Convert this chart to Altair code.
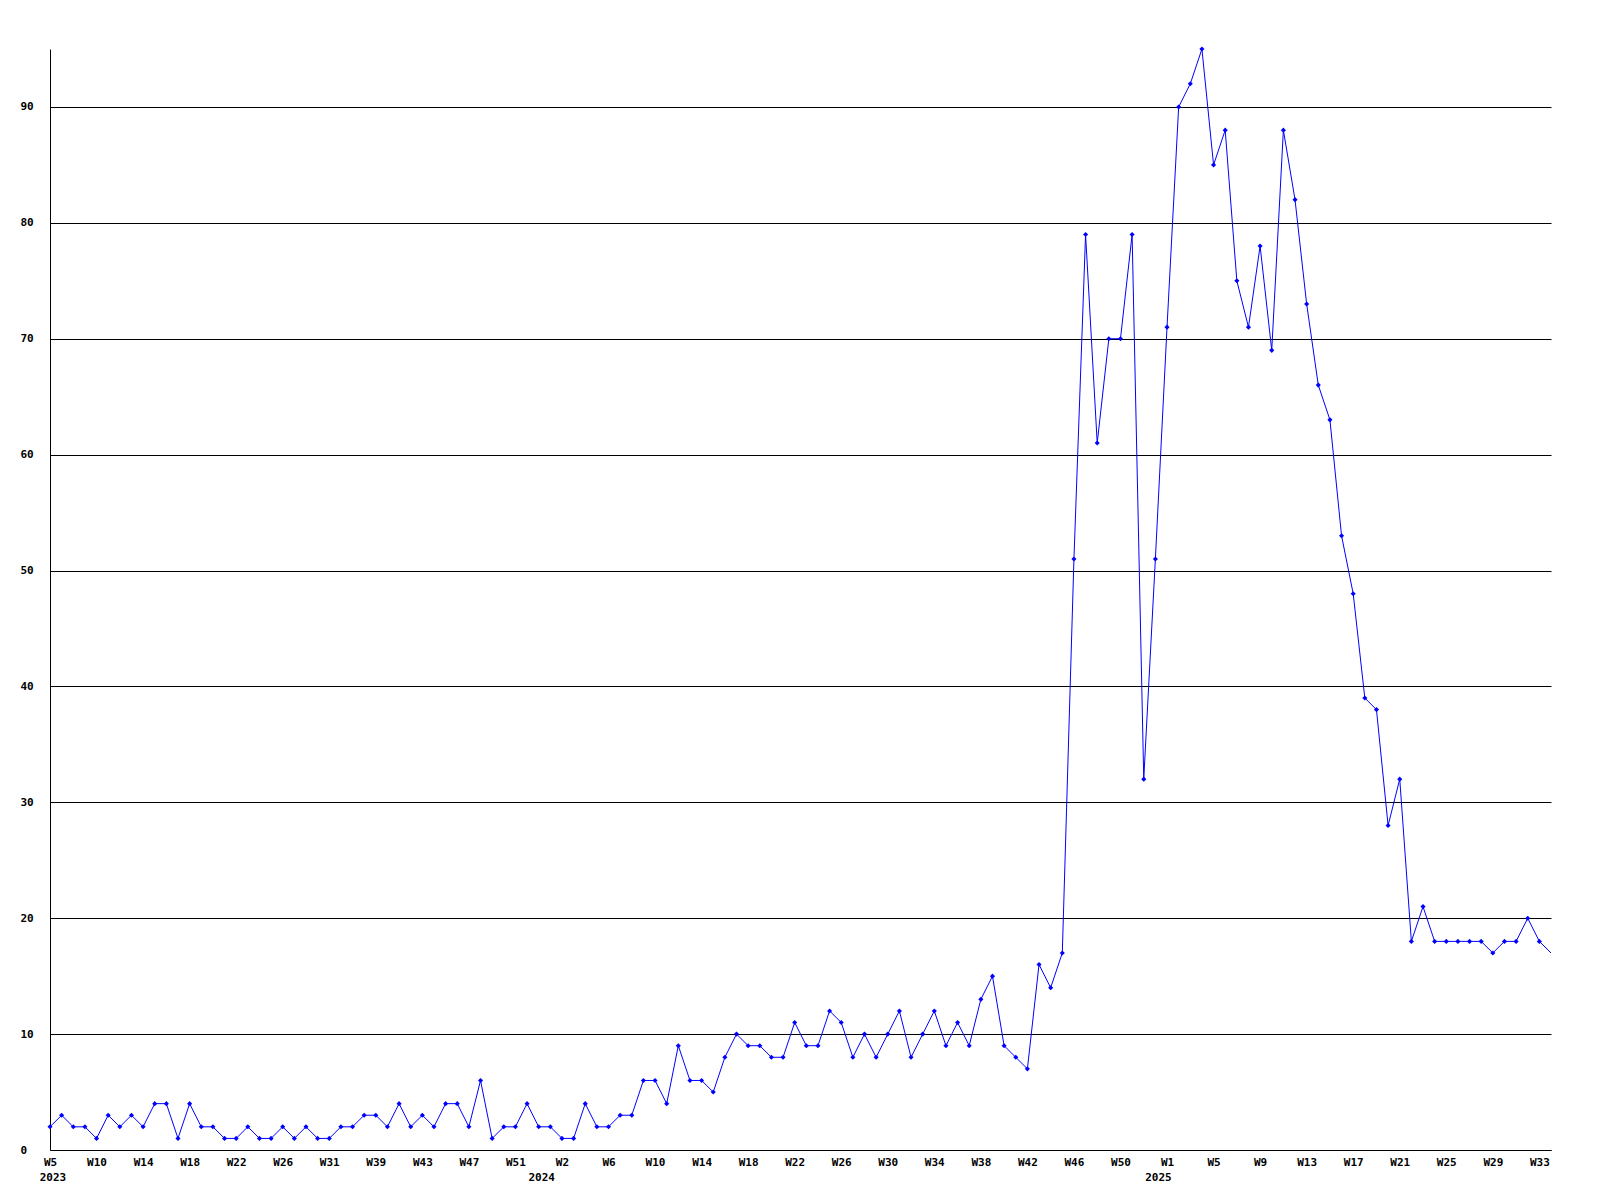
import altair as alt
import pandas as pd

# weekly counts, one value per plotted week (2023 W5 ... 2025 W34)
values = [
    2, 3, 2, 2, 1, 3, 2, 3, 2, 4, 4, 1, 4, 2, 2, 1, 1, 2, 1, 1, 2, 1, 2, 1, 1,
    2, 2, 3, 3, 2, 4, 2, 3, 2, 4, 4, 2, 6, 1, 2, 2, 4, 2, 2,
    1, 1, 4, 2, 2, 3, 3, 6, 6, 4, 9, 6, 6, 5, 8,
    10, 9, 9, 8, 8, 11, 9, 9, 12, 11, 8, 10, 8, 10, 12, 8, 10, 12, 9, 11, 9,
    13, 15, 9, 8, 7, 16, 14, 17,
    51, 79, 61, 70, 70, 79, 32, 51, 71, 90, 92, 95, 85, 88, 75, 71, 78, 69,
    88, 82, 73, 66, 63, 53, 48, 39, 38, 28, 32, 18, 21, 18, 18, 18, 18, 18,
    17, 18, 18, 20, 18, 17,
]

# x tick labels, one every 4th week
tick_labels = [
    "W5", "W10", "W14", "W18", "W22", "W26", "W31", "W39", "W43", "W47", "W51",
    "W2", "W6", "W10", "W14", "W18", "W22", "W26", "W30", "W34", "W38", "W42",
    "W46", "W50",
    "W1", "W5", "W9", "W13", "W17", "W21", "W25", "W29", "W33",
]
tick_step = 4

year_labels = ["2023", "2024", "2025"]
year_index = [0, 42, 95]

y_ticks = [0, 10, 20, 30, 40, 50, 60, 70, 80, 90]

FONT = "DejaVu Sans Mono"
W, H = 1501, 1101

n = len(values)
df = pd.DataFrame({"i": list(range(n)), "v": values})
years = pd.DataFrame({"i": year_index, "year": year_labels})

tick_idx = [k * tick_step for k in range(len(tick_labels))]
# labels are laid out as fixed 3-character cells (short ones padded)
padded = [t + "\u00a0" * (3 - len(t)) for t in tick_labels]
label_expr = "[" + ",".join(f"'{t}'" for t in padded) + f"][round(datum.value / {tick_step})]"

xscale = alt.Scale(domain=[0, n - 1], nice=False, zero=False)
yscale = alt.Scale(domain=[0, max(values)], nice=False)

x_axis = alt.Axis(
    values=tick_idx, labelExpr=label_expr, ticks=False, grid=False,
    domainColor="black", domainWidth=1, labelFont=FONT, labelFontWeight="bold",
    labelFontSize=11, labelColor="black", labelPadding=6, labelFlush=False,
    labelOverlap=False, title=None,
)
y_axis = alt.Axis(
    values=y_ticks, ticks=False, grid=True, gridColor="black", gridOpacity=1,
    gridWidth=1, domainColor="black", domainWidth=1, labelFont=FONT,
    labelFontWeight="bold", labelFontSize=11, labelColor="black",
    labelAlign="left", labelPadding=30, title=None,
)

line = alt.Chart(df).mark_line(color="#0000ff", strokeWidth=1).encode(
    x=alt.X("i:Q", scale=xscale, axis=x_axis),
    y=alt.Y("v:Q", scale=yscale, axis=y_axis),
)

points = alt.Chart(df).transform_filter(
    alt.datum.i < n - 1
).mark_point(shape="diamond", filled=True, size=26, color="#0000ff", opacity=1).encode(
    x=alt.X("i:Q", scale=xscale),
    y=alt.Y("v:Q", scale=yscale),
)

year_text = alt.Chart(years).mark_text(
    font=FONT, fontWeight="bold", fontSize=11, color="black",
    align="center", baseline="middle", dx=3,
).encode(
    x=alt.X("i:Q", scale=xscale),
    y=alt.value(H + 28),
    text="year:N",
)

chart = alt.layer(line, points, year_text).properties(
    width=W, height=H,
    autosize=alt.AutoSizeParams(type="none"),
    padding={"left": 42, "top": 41, "right": 41, "bottom": 42},
    background="white",
).configure_view(stroke=None)

chart.save("out.html", embed_options={"renderer": "svg", "actions": False})
